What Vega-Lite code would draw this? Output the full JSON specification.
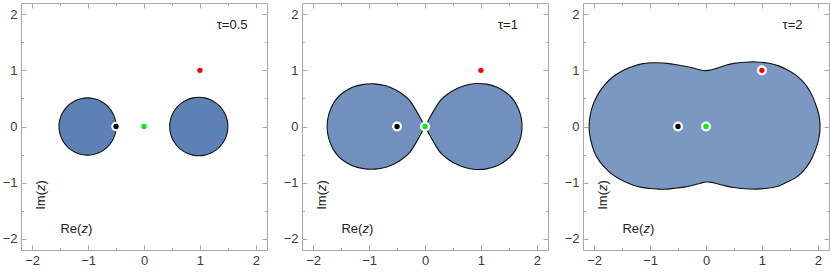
{
  "$schema": "https://vega.github.io/schema/vega-lite/v6.json",
  "background": "white",
  "padding": {"left": 1, "top": 2, "right": 2, "bottom": 2},
  "spacing": 35,
  "bounds": "flush",
  "config": {
    "view": {"stroke": "#a8a8a8", "strokeWidth": 1},
    "axis": {
      "values": [-2,-1.8,-1.6,-1.4,-1.2,-1,-0.8,-0.6,-0.4,-0.2,0,0.2,0.4,0.6,0.8,1,1.2,1.4,1.6,1.8,2],
      "format": "d",
      "labelExpr": "abs(datum.value-round(datum.value))<0.01 ? datum.label : ''",
      "tickSize": {"condition": {"test": "abs(datum.value-round(datum.value))<0.01", "value": -5}, "value": -2.5},
      "tickColor": "#a8a8a8",
      "tickWidth": 1,
      "domain": false,
      "grid": false,
      "labelPadding": 9,
      "labelFontSize": 13,
      "labelFont": "Liberation Sans",
      "labelColor": "#3a3a3a",
      "labelOverlap": false,
      "labelFlush": false,
      "title": null
    }
  },
  "datasets": {
    "shape": [
      {"panel":"a","lobe":"L","x":-1.52,"y":0,"y2":0},
      {"panel":"a","lobe":"L","x":-1.5175,"y":0.051,"y2":-0.051},
      {"panel":"a","lobe":"L","x":-1.51,"y":0.101,"y2":-0.101},
      {"panel":"a","lobe":"L","x":-1.4945,"y":0.159,"y2":-0.159},
      {"panel":"a","lobe":"L","x":-1.469,"y":0.222,"y2":-0.222},
      {"panel":"a","lobe":"L","x":-1.418,"y":0.306,"y2":-0.306},
      {"panel":"a","lobe":"L","x":-1.367,"y":0.364,"y2":-0.364},
      {"panel":"a","lobe":"L","x":-1.316,"y":0.408,"y2":-0.408},
      {"panel":"a","lobe":"L","x":-1.214,"y":0.468,"y2":-0.468},
      {"panel":"a","lobe":"L","x":-1.112,"y":0.5,"y2":-0.5},
      {"panel":"a","lobe":"L","x":-1.01,"y":0.51,"y2":-0.51},
      {"panel":"a","lobe":"L","x":-0.908,"y":0.5,"y2":-0.5},
      {"panel":"a","lobe":"L","x":-0.806,"y":0.468,"y2":-0.468},
      {"panel":"a","lobe":"L","x":-0.704,"y":0.408,"y2":-0.408},
      {"panel":"a","lobe":"L","x":-0.653,"y":0.364,"y2":-0.364},
      {"panel":"a","lobe":"L","x":-0.602,"y":0.306,"y2":-0.306},
      {"panel":"a","lobe":"L","x":-0.551,"y":0.222,"y2":-0.222},
      {"panel":"a","lobe":"L","x":-0.5255,"y":0.159,"y2":-0.159},
      {"panel":"a","lobe":"L","x":-0.51,"y":0.101,"y2":-0.101},
      {"panel":"a","lobe":"L","x":-0.5025,"y":0.051,"y2":-0.051},
      {"panel":"a","lobe":"L","x":-0.5,"y":0,"y2":0},
      {"panel":"a","lobe":"R","x":0.46,"y":0,"y2":0},
      {"panel":"a","lobe":"R","x":0.4626,"y":0.052,"y2":-0.052},
      {"panel":"a","lobe":"R","x":0.4704,"y":0.103,"y2":-0.103},
      {"panel":"a","lobe":"R","x":0.486,"y":0.162,"y2":-0.162},
      {"panel":"a","lobe":"R","x":0.512,"y":0.227,"y2":-0.227},
      {"panel":"a","lobe":"R","x":0.564,"y":0.312,"y2":-0.312},
      {"panel":"a","lobe":"R","x":0.616,"y":0.371,"y2":-0.371},
      {"panel":"a","lobe":"R","x":0.668,"y":0.416,"y2":-0.416},
      {"panel":"a","lobe":"R","x":0.772,"y":0.477,"y2":-0.477},
      {"panel":"a","lobe":"R","x":0.876,"y":0.51,"y2":-0.51},
      {"panel":"a","lobe":"R","x":0.98,"y":0.52,"y2":-0.52},
      {"panel":"a","lobe":"R","x":1.084,"y":0.51,"y2":-0.51},
      {"panel":"a","lobe":"R","x":1.188,"y":0.477,"y2":-0.477},
      {"panel":"a","lobe":"R","x":1.292,"y":0.416,"y2":-0.416},
      {"panel":"a","lobe":"R","x":1.344,"y":0.371,"y2":-0.371},
      {"panel":"a","lobe":"R","x":1.396,"y":0.312,"y2":-0.312},
      {"panel":"a","lobe":"R","x":1.448,"y":0.227,"y2":-0.227},
      {"panel":"a","lobe":"R","x":1.474,"y":0.162,"y2":-0.162},
      {"panel":"a","lobe":"R","x":1.4896,"y":0.103,"y2":-0.103},
      {"panel":"a","lobe":"R","x":1.4974,"y":0.052,"y2":-0.052},
      {"panel":"a","lobe":"R","x":1.5,"y":0,"y2":0},

      {"panel":"b","lobe":"L","x":-1.75,"y":0,"y2":0},
      {"panel":"b","lobe":"L","x":-1.746,"y":0.08,"y2":-0.08},
      {"panel":"b","lobe":"L","x":-1.735,"y":0.155,"y2":-0.155},
      {"panel":"b","lobe":"L","x":-1.715,"y":0.235,"y2":-0.235},
      {"panel":"b","lobe":"L","x":-1.685,"y":0.315,"y2":-0.315},
      {"panel":"b","lobe":"L","x":-1.63,"y":0.425,"y2":-0.425},
      {"panel":"b","lobe":"L","x":-1.55,"y":0.53,"y2":-0.53},
      {"panel":"b","lobe":"L","x":-1.45,"y":0.615,"y2":-0.615},
      {"panel":"b","lobe":"L","x":-1.3,"y":0.7,"y2":-0.7},
      {"panel":"b","lobe":"L","x":-1.1,"y":0.75,"y2":-0.75},
      {"panel":"b","lobe":"L","x":-0.9,"y":0.76,"y2":-0.76},
      {"panel":"b","lobe":"L","x":-0.7,"y":0.725,"y2":-0.725},
      {"panel":"b","lobe":"L","x":-0.52,"y":0.65,"y2":-0.65},
      {"panel":"b","lobe":"L","x":-0.4,"y":0.575,"y2":-0.575},
      {"panel":"b","lobe":"L","x":-0.28,"y":0.47,"y2":-0.47},
      {"panel":"b","lobe":"L","x":-0.15,"y":0.27,"y2":-0.27},
      {"panel":"b","lobe":"L","x":-0.05,"y":0.09,"y2":-0.09},
      {"panel":"b","lobe":"L","x":0,"y":0,"y2":0},
      {"panel":"b","lobe":"R","x":0,"y":0,"y2":0},
      {"panel":"b","lobe":"R","x":0.05,"y":0.09,"y2":-0.09},
      {"panel":"b","lobe":"R","x":0.15,"y":0.27,"y2":-0.27},
      {"panel":"b","lobe":"R","x":0.28,"y":0.47,"y2":-0.47},
      {"panel":"b","lobe":"R","x":0.4,"y":0.575,"y2":-0.575},
      {"panel":"b","lobe":"R","x":0.52,"y":0.65,"y2":-0.65},
      {"panel":"b","lobe":"R","x":0.7,"y":0.725,"y2":-0.725},
      {"panel":"b","lobe":"R","x":0.9,"y":0.765,"y2":-0.765},
      {"panel":"b","lobe":"R","x":1.1,"y":0.755,"y2":-0.755},
      {"panel":"b","lobe":"R","x":1.29,"y":0.7,"y2":-0.7},
      {"panel":"b","lobe":"R","x":1.435,"y":0.615,"y2":-0.615},
      {"panel":"b","lobe":"R","x":1.535,"y":0.53,"y2":-0.53},
      {"panel":"b","lobe":"R","x":1.615,"y":0.425,"y2":-0.425},
      {"panel":"b","lobe":"R","x":1.67,"y":0.315,"y2":-0.315},
      {"panel":"b","lobe":"R","x":1.7,"y":0.235,"y2":-0.235},
      {"panel":"b","lobe":"R","x":1.72,"y":0.155,"y2":-0.155},
      {"panel":"b","lobe":"R","x":1.731,"y":0.08,"y2":-0.08},
      {"panel":"b","lobe":"R","x":1.735,"y":0,"y2":0},

      {"panel":"c","lobe":"L","x":-2.09,"y":0,"y2":0},
      {"panel":"c","lobe":"L","x":-2.088,"y":0.065,"y2":-0.065},
      {"panel":"c","lobe":"L","x":-2.08,"y":0.145,"y2":-0.145},
      {"panel":"c","lobe":"L","x":-2.05,"y":0.29,"y2":-0.29},
      {"panel":"c","lobe":"L","x":-2.0,"y":0.44,"y2":-0.45},
      {"panel":"c","lobe":"L","x":-1.9,"y":0.625,"y2":-0.625},
      {"panel":"c","lobe":"L","x":-1.8,"y":0.755,"y2":-0.74},
      {"panel":"c","lobe":"L","x":-1.7,"y":0.855,"y2":-0.835},
      {"panel":"c","lobe":"L","x":-1.6,"y":0.93,"y2":-0.905},
      {"panel":"c","lobe":"L","x":-1.45,"y":1.015,"y2":-0.985},
      {"panel":"c","lobe":"L","x":-1.3,"y":1.075,"y2":-1.045},
      {"panel":"c","lobe":"L","x":-1.15,"y":1.115,"y2":-1.085},
      {"panel":"c","lobe":"L","x":-1.0,"y":1.135,"y2":-1.105},
      {"panel":"c","lobe":"L","x":-0.85,"y":1.135,"y2":-1.115},
      {"panel":"c","lobe":"L","x":-0.7,"y":1.125,"y2":-1.115},
      {"panel":"c","lobe":"L","x":-0.55,"y":1.105,"y2":-1.1},
      {"panel":"c","lobe":"L","x":-0.4,"y":1.078,"y2":-1.08},
      {"panel":"c","lobe":"L","x":-0.25,"y":1.045,"y2":-1.05},
      {"panel":"c","lobe":"L","x":-0.1,"y":1.007,"y2":-1.01},
      {"panel":"c","lobe":"L","x":0.0,"y":0.995,"y2":-0.99},
      {"panel":"c","lobe":"L","x":0.1,"y":1.01,"y2":-0.995},
      {"panel":"c","lobe":"L","x":0.2,"y":1.04,"y2":-1.02},
      {"panel":"c","lobe":"L","x":0.35,"y":1.09,"y2":-1.058},
      {"panel":"c","lobe":"L","x":0.5,"y":1.125,"y2":-1.087},
      {"panel":"c","lobe":"L","x":0.7,"y":1.145,"y2":-1.108},
      {"panel":"c","lobe":"L","x":0.9,"y":1.15,"y2":-1.116},
      {"panel":"c","lobe":"L","x":1.1,"y":1.13,"y2":-1.1},
      {"panel":"c","lobe":"L","x":1.3,"y":1.08,"y2":-1.06},
      {"panel":"c","lobe":"L","x":1.45,"y":1.01,"y2":-0.99},
      {"panel":"c","lobe":"L","x":1.6,"y":0.92,"y2":-0.915},
      {"panel":"c","lobe":"L","x":1.7,"y":0.835,"y2":-0.835},
      {"panel":"c","lobe":"L","x":1.8,"y":0.72,"y2":-0.72},
      {"panel":"c","lobe":"L","x":1.9,"y":0.55,"y2":-0.555},
      {"panel":"c","lobe":"L","x":1.97,"y":0.37,"y2":-0.38},
      {"panel":"c","lobe":"L","x":2.01,"y":0.245,"y2":-0.25},
      {"panel":"c","lobe":"L","x":2.03,"y":0.14,"y2":-0.14},
      {"panel":"c","lobe":"L","x":2.038,"y":0.065,"y2":-0.065},
      {"panel":"c","lobe":"L","x":2.04,"y":0,"y2":0}
    ],
    "dots": [
      {"kind":"p","x":-0.5,"y":0},
      {"kind":"o","x":0,"y":0},
      {"kind":"q","x":1,"y":1}
    ],
    "tau": [
      {"panel":"a","x":1.3,"y":1.81,"t":"τ=0.5"},
      {"panel":"b","x":1.305,"y":1.81,"t":"τ=1"},
      {"panel":"c","x":1.37,"y":1.81,"t":"τ=2"}
    ],
    "axlab": [
      {"x":-1.12,"y":-1.82,"pre":"Re(","a":0},
      {"x":-1.84,"y":-1.149,"pre":"Im(","a":270}
    ]
  },
  "hconcat": [
    {
      "width": 246, "height": 247,
      "layer": [
        {"data":{"name":"shape"},"transform":[{"filter":"datum.panel==='a'"}],
         "mark":{"type":"area","interpolate":"catmull-rom","color":"#5e81b5","opacity":1},
         "encoding":{
           "x":{"field":"x","type":"quantitative","scale":{"domain":[-2.2,2.2],"nice":false,"zero":false},"axis":{"orient":"bottom"}},
           "y":{"field":"y","type":"quantitative","scale":{"domain":[-2.2,2.2],"nice":false,"zero":false},"axis":{"orient":"left"}},
           "y2":{"field":"y2"},"detail":{"field":"lobe"}}},
        {"data":{"name":"shape"},"transform":[{"filter":"datum.panel==='a'"}],
         "mark":{"type":"line","interpolate":"catmull-rom","color":"#111111","strokeWidth":1.1},
         "encoding":{"x":{"field":"x","type":"quantitative","axis":null},"y":{"field":"y","type":"quantitative","axis":null},"detail":{"field":"lobe"}}},
        {"data":{"name":"shape"},"transform":[{"filter":"datum.panel==='a'"}],
         "mark":{"type":"line","interpolate":"catmull-rom","color":"#111111","strokeWidth":1.1},
         "encoding":{"x":{"field":"x","type":"quantitative","axis":null},"y":{"field":"y2","type":"quantitative","axis":null},"detail":{"field":"lobe"}}},
        {"data":{"name":"dots"},
         "mark":{"type":"circle","color":"white","size":90,"opacity":1},
         "encoding":{"x":{"field":"x","type":"quantitative","axis":{"orient":"top","labels":false}},"y":{"field":"y","type":"quantitative","axis":{"orient":"right","labels":false}}}},
        {"data":{"name":"dots"},
         "mark":{"type":"circle","size":28,"opacity":1},
         "encoding":{"x":{"field":"x","type":"quantitative","axis":null},"y":{"field":"y","type":"quantitative","axis":null},
           "color":{"field":"kind","type":"nominal","scale":{"domain":["p","o","q"],"range":["#000000","#00f000","#ff0000"]},"legend":null}}},
        {"data":{"name":"tau"},"transform":[{"filter":"datum.panel==='a'"}],
         "mark":{"type":"text","font":"Liberation Sans","fontSize":13,"align":"left","baseline":"middle","color":"#222222"},
         "encoding":{"x":{"field":"x","type":"quantitative","axis":null},"y":{"field":"y","type":"quantitative","axis":null},"text":{"field":"t"}}},
        {"data":{"name":"axlab"},
         "mark":{"type":"text","font":"Liberation Sans","fontSize":13,"align":"right","baseline":"middle","color":"#222222"},
         "encoding":{"x":{"field":"x","type":"quantitative","axis":null},"y":{"field":"y","type":"quantitative","axis":null},"text":{"field":"pre"},"angle":{"field":"a","type":"quantitative","scale":null}}},
        {"data":{"name":"axlab"},
         "mark":{"type":"text","font":"Liberation Sans","fontSize":13,"fontStyle":"italic","align":"left","baseline":"middle","color":"#222222"},
         "encoding":{"x":{"field":"x","type":"quantitative","axis":null},"y":{"field":"y","type":"quantitative","axis":null},"text":{"value":"z"},"angle":{"field":"a","type":"quantitative","scale":null}}},
        {"data":{"name":"axlab"},
         "mark":{"type":"text","font":"Liberation Sans","fontSize":13,"align":"left","baseline":"middle","dx":6.6,"color":"#222222"},
         "encoding":{"x":{"field":"x","type":"quantitative","axis":null},"y":{"field":"y","type":"quantitative","axis":null},"text":{"value":")"},"angle":{"field":"a","type":"quantitative","scale":null}}}
      ],
      "resolve": {"axis": {"x": "independent", "y": "independent"}}
    },
    {
      "width": 246, "height": 247,
      "layer": [
        {"data":{"name":"shape"},"transform":[{"filter":"datum.panel==='b'"}],
         "mark":{"type":"area","interpolate":"catmull-rom","color":"#5e81b5","opacity":0.88},
         "encoding":{
           "x":{"field":"x","type":"quantitative","scale":{"domain":[-2.2,2.2],"nice":false,"zero":false},"axis":{"orient":"bottom"}},
           "y":{"field":"y","type":"quantitative","scale":{"domain":[-2.2,2.2],"nice":false,"zero":false},"axis":{"orient":"left"}},
           "y2":{"field":"y2"},"detail":{"field":"lobe"}}},
        {"data":{"name":"shape"},"transform":[{"filter":"datum.panel==='b'"}],
         "mark":{"type":"line","interpolate":"catmull-rom","color":"#111111","strokeWidth":1.1},
         "encoding":{"x":{"field":"x","type":"quantitative","axis":null},"y":{"field":"y","type":"quantitative","axis":null},"detail":{"field":"lobe"}}},
        {"data":{"name":"shape"},"transform":[{"filter":"datum.panel==='b'"}],
         "mark":{"type":"line","interpolate":"catmull-rom","color":"#111111","strokeWidth":1.1},
         "encoding":{"x":{"field":"x","type":"quantitative","axis":null},"y":{"field":"y2","type":"quantitative","axis":null},"detail":{"field":"lobe"}}},
        {"data":{"name":"dots"},
         "mark":{"type":"circle","color":"white","size":100,"opacity":1},
         "encoding":{"x":{"field":"x","type":"quantitative","axis":{"orient":"top","labels":false}},"y":{"field":"y","type":"quantitative","axis":{"orient":"right","labels":false}}}},
        {"data":{"name":"dots"},
         "mark":{"type":"circle","size":28,"opacity":1},
         "encoding":{"x":{"field":"x","type":"quantitative","axis":null},"y":{"field":"y","type":"quantitative","axis":null},
           "color":{"field":"kind","type":"nominal","scale":{"domain":["p","o","q"],"range":["#000000","#00f000","#ff0000"]},"legend":null}}},
        {"data":{"name":"tau"},"transform":[{"filter":"datum.panel==='b'"}],
         "mark":{"type":"text","font":"Liberation Sans","fontSize":13,"align":"left","baseline":"middle","color":"#222222"},
         "encoding":{"x":{"field":"x","type":"quantitative","axis":null},"y":{"field":"y","type":"quantitative","axis":null},"text":{"field":"t"}}},
        {"data":{"name":"axlab"},
         "mark":{"type":"text","font":"Liberation Sans","fontSize":13,"align":"right","baseline":"middle","color":"#222222"},
         "encoding":{"x":{"field":"x","type":"quantitative","axis":null},"y":{"field":"y","type":"quantitative","axis":null},"text":{"field":"pre"},"angle":{"field":"a","type":"quantitative","scale":null}}},
        {"data":{"name":"axlab"},
         "mark":{"type":"text","font":"Liberation Sans","fontSize":13,"fontStyle":"italic","align":"left","baseline":"middle","color":"#222222"},
         "encoding":{"x":{"field":"x","type":"quantitative","axis":null},"y":{"field":"y","type":"quantitative","axis":null},"text":{"value":"z"},"angle":{"field":"a","type":"quantitative","scale":null}}},
        {"data":{"name":"axlab"},
         "mark":{"type":"text","font":"Liberation Sans","fontSize":13,"align":"left","baseline":"middle","dx":6.6,"color":"#222222"},
         "encoding":{"x":{"field":"x","type":"quantitative","axis":null},"y":{"field":"y","type":"quantitative","axis":null},"text":{"value":")"},"angle":{"field":"a","type":"quantitative","scale":null}}}
      ],
      "resolve": {"axis": {"x": "independent", "y": "independent"}}
    },
    {
      "width": 246, "height": 247,
      "layer": [
        {"data":{"name":"shape"},"transform":[{"filter":"datum.panel==='c'"}],
         "mark":{"type":"area","interpolate":"catmull-rom","color":"#5e81b5","opacity":0.82},
         "encoding":{
           "x":{"field":"x","type":"quantitative","scale":{"domain":[-2.2,2.2],"nice":false,"zero":false},"axis":{"orient":"bottom"}},
           "y":{"field":"y","type":"quantitative","scale":{"domain":[-2.2,2.2],"nice":false,"zero":false},"axis":{"orient":"left"}},
           "y2":{"field":"y2"},"detail":{"field":"lobe"}}},
        {"data":{"name":"shape"},"transform":[{"filter":"datum.panel==='c'"}],
         "mark":{"type":"line","interpolate":"catmull-rom","color":"#111111","strokeWidth":1.1},
         "encoding":{"x":{"field":"x","type":"quantitative","axis":null},"y":{"field":"y","type":"quantitative","axis":null},"detail":{"field":"lobe"}}},
        {"data":{"name":"shape"},"transform":[{"filter":"datum.panel==='c'"}],
         "mark":{"type":"line","interpolate":"catmull-rom","color":"#111111","strokeWidth":1.1},
         "encoding":{"x":{"field":"x","type":"quantitative","axis":null},"y":{"field":"y2","type":"quantitative","axis":null},"detail":{"field":"lobe"}}},
        {"data":{"name":"dots"},
         "mark":{"type":"circle","color":"white","size":100,"opacity":1},
         "encoding":{"x":{"field":"x","type":"quantitative","axis":{"orient":"top","labels":false}},"y":{"field":"y","type":"quantitative","axis":{"orient":"right","labels":false}}}},
        {"data":{"name":"dots"},
         "mark":{"type":"circle","size":28,"opacity":1},
         "encoding":{"x":{"field":"x","type":"quantitative","axis":null},"y":{"field":"y","type":"quantitative","axis":null},
           "color":{"field":"kind","type":"nominal","scale":{"domain":["p","o","q"],"range":["#000000","#00f000","#ff0000"]},"legend":null}}},
        {"data":{"name":"tau"},"transform":[{"filter":"datum.panel==='c'"}],
         "mark":{"type":"text","font":"Liberation Sans","fontSize":13,"align":"left","baseline":"middle","color":"#222222"},
         "encoding":{"x":{"field":"x","type":"quantitative","axis":null},"y":{"field":"y","type":"quantitative","axis":null},"text":{"field":"t"}}},
        {"data":{"name":"axlab"},
         "mark":{"type":"text","font":"Liberation Sans","fontSize":13,"align":"right","baseline":"middle","color":"#222222"},
         "encoding":{"x":{"field":"x","type":"quantitative","axis":null},"y":{"field":"y","type":"quantitative","axis":null},"text":{"field":"pre"},"angle":{"field":"a","type":"quantitative","scale":null}}},
        {"data":{"name":"axlab"},
         "mark":{"type":"text","font":"Liberation Sans","fontSize":13,"fontStyle":"italic","align":"left","baseline":"middle","color":"#222222"},
         "encoding":{"x":{"field":"x","type":"quantitative","axis":null},"y":{"field":"y","type":"quantitative","axis":null},"text":{"value":"z"},"angle":{"field":"a","type":"quantitative","scale":null}}},
        {"data":{"name":"axlab"},
         "mark":{"type":"text","font":"Liberation Sans","fontSize":13,"align":"left","baseline":"middle","dx":6.6,"color":"#222222"},
         "encoding":{"x":{"field":"x","type":"quantitative","axis":null},"y":{"field":"y","type":"quantitative","axis":null},"text":{"value":")"},"angle":{"field":"a","type":"quantitative","scale":null}}}
      ],
      "resolve": {"axis": {"x": "independent", "y": "independent"}}
    }
  ]
}
